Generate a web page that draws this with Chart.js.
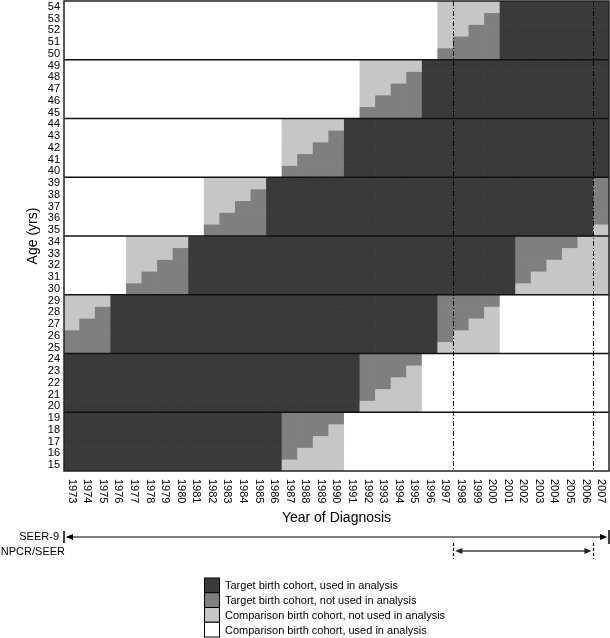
<!DOCTYPE html>
<html>
<head>
<meta charset="utf-8">
<script src="https://cdn.jsdelivr.net/npm/chart.js@4.4.1/dist/chart.umd.min.js"></script>
<style>
  html, body { margin: 0; padding: 0; background: #fff; }
  #wrap { width: 610px; height: 638px; }
</style>
</head>
<body>
<div id="wrap"><canvas id="cohortChart" width="610" height="638"></canvas></div>
<script>
// Years of diagnosis (columns) and ages (rows, top to bottom)
const years = ['1973', '1974', '1975', '1976', '1977', '1978', '1979', '1980', '1981', '1982',
    '1983', '1984', '1985', '1986', '1987', '1988', '1989', '1990', '1991', '1992',
    '1993', '1994', '1995', '1996', '1997', '1998', '1999', '2000', '2001', '2002',
    '2003', '2004', '2005', '2006', '2007'];
const ages = [54, 53, 52, 51, 50, 49, 48, 47, 46, 45, 44, 43, 42, 41, 40, 39, 38, 37, 36, 35,
    34, 33, 32, 31, 30, 29, 28, 27, 26, 25, 24, 23, 22, 21, 20, 19, 18, 17, 16, 15];

// One string per age row, one character per year (grouped by 5 years)
// 1 = target used, 2 = target not used, 3 = comparison not used, 0 = comparison used
const cellRows = [
    '00000 00000 00000 00000 00003 33311 11111', // 54
    '00000 00000 00000 00000 00003 33211 11111',
    '00000 00000 00000 00000 00003 32211 11111',
    '00000 00000 00000 00000 00003 22211 11111',
    '00000 00000 00000 00000 00002 22211 11111', // 50
    '00000 00000 00000 00003 33311 11111 11111', // 49
    '00000 00000 00000 00003 33211 11111 11111',
    '00000 00000 00000 00003 32211 11111 11111',
    '00000 00000 00000 00003 22211 11111 11111',
    '00000 00000 00000 00002 22211 11111 11111', // 45
    '00000 00000 00003 33311 11111 11111 11111', // 44
    '00000 00000 00003 33211 11111 11111 11111',
    '00000 00000 00003 32211 11111 11111 11111',
    '00000 00000 00003 22211 11111 11111 11111',
    '00000 00000 00002 22211 11111 11111 11111', // 40
    '00000 00003 33311 11111 11111 11111 11112', // 39
    '00000 00003 33211 11111 11111 11111 11112',
    '00000 00003 32211 11111 11111 11111 11112',
    '00000 00003 22211 11111 11111 11111 11112',
    '00000 00002 22211 11111 11111 11111 11113', // 35
    '00003 33311 11111 11111 11111 11112 22233', // 34
    '00003 33211 11111 11111 11111 11112 22333',
    '00003 32211 11111 11111 11111 11112 23333',
    '00003 22211 11111 11111 11111 11112 33333',
    '00002 22211 11111 11111 11111 11113 33333', // 30
    '33311 11111 11111 11111 11112 22200 00000', // 29
    '33211 11111 11111 11111 11112 22300 00000',
    '32211 11111 11111 11111 11112 23300 00000',
    '22211 11111 11111 11111 11112 33300 00000',
    '22211 11111 11111 11111 11113 33300 00000', // 25
    '11111 11111 11111 11112 22200 00000 00000', // 24
    '11111 11111 11111 11112 22300 00000 00000',
    '11111 11111 11111 11112 23300 00000 00000',
    '11111 11111 11111 11112 33300 00000 00000',
    '11111 11111 11111 11113 33300 00000 00000', // 20
    '11111 11111 11112 22200 00000 00000 00000', // 19
    '11111 11111 11112 22300 00000 00000 00000',
    '11111 11111 11112 23300 00000 00000 00000',
    '11111 11111 11112 33300 00000 00000 00000',
    '11111 11111 11113 33300 00000 00000 00000'  // 15
];

// Legend categories, in legend order
const categoryNames = ['Target birth cohort, used in analysis', 'Target birth cohort, not used in analysis',
    'Comparison birth cohort, not used in analysis', 'Comparison birth cohort, used in analysis'];
const categoryCodes = ['1', '2', '3', '0'];
const categoryColors = ['#3a3a3a', '#7f7f7f', '#c6c6c6', '#ffffff'];

// 5-year age band boundaries
const bandEdges = [19.5, 24.5, 29.5, 34.5, 39.5, 44.5, 49.5];

// Registry coverage
const rangeLabels = ['SEER-9', 'NPCR/SEER'];
const rangeStart = ['1973', '1998'];
const rangeEnd = ['2007', '2006'];

const FONT = '"Liberation Sans", Arial, Helvetica, sans-serif';

const datasets = ages.map((age, r) => {
    const codes = cellRows[r].replace(/ /g, '').split('');
    return {
        label: String(age),
        data: years.map(() => [age - 0.5, age + 0.5]),
        backgroundColor: codes.map(c => categoryColors[categoryCodes.indexOf(c)]),
        borderWidth: 0,
        grouped: false,
        barPercentage: 1,
        categoryPercentage: 1
    };
});

function line(ctx, x1, y1, x2, y2) {
    ctx.beginPath();
    ctx.moveTo(x1, y1);
    ctx.lineTo(x2, y2);
    ctx.stroke();
}

function arrowHead(ctx, tipX, y, dir) {
    ctx.beginPath();
    ctx.moveTo(tipX, y);
    ctx.lineTo(tipX + dir * 7, y - 3);
    ctx.lineTo(tipX + dir * 7, y + 3);
    ctx.closePath();
    ctx.fill();
}

const overlay = {
    id: 'overlay',
    afterDatasetsDraw(chart) {
        const { ctx, chartArea: a, scales: { x, y } } = chart;
        const step = x.getPixelForValue(1) - x.getPixelForValue(0);
        const edgeBefore = yr => x.getPixelForValue(years.indexOf(yr)) - step / 2;
        const edgeAfter = yr => x.getPixelForValue(years.indexOf(yr)) + step / 2;
        const nStart = edgeBefore(rangeStart[1]);
        const nEnd = edgeAfter(rangeEnd[1]);

        ctx.save();

        // band separators
        ctx.strokeStyle = '#111';
        ctx.lineWidth = 1.5;
        bandEdges.forEach(v => {
            const py = y.getPixelForValue(v);
            line(ctx, a.left, py, a.right, py);
        });

        // NPCR/SEER period markers
        ctx.lineWidth = 1;
        ctx.strokeStyle = '#000';
        ctx.setLineDash([5, 2, 1, 2]);
        line(ctx, Math.round(nStart) + 0.5, a.top, Math.round(nStart) + 0.5, a.bottom);
        line(ctx, Math.round(nEnd) + 0.5, a.top, Math.round(nEnd) + 0.5, a.bottom);
        ctx.setLineDash([]);

        // frame
        ctx.strokeStyle = '#222';
        ctx.lineWidth = 1.5;
        ctx.strokeRect(a.left, a.top, a.right - a.left, a.bottom - a.top);

        // x tick labels, reading downwards
        ctx.fillStyle = '#000';
        ctx.font = '11px ' + FONT;
        ctx.textAlign = 'left';
        ctx.textBaseline = 'middle';
        years.forEach((yr, i) => {
            ctx.save();
            ctx.translate(x.getPixelForValue(i), a.bottom + 8);
            ctx.rotate(Math.PI / 2);
            ctx.fillText(yr, 0, 0);
            ctx.restore();
        });

        // axis titles
        ctx.font = '14px ' + FONT;
        ctx.textAlign = 'center';
        ctx.fillText('Year of Diagnosis', (a.left + a.right) / 2, 518);
        ctx.save();
        ctx.translate(33, (a.top + a.bottom) / 2);
        ctx.rotate(-Math.PI / 2);
        ctx.fillText('Age (yrs)', 0, 0);
        ctx.restore();

        // SEER-9 range
        const sStart = edgeBefore(rangeStart[0]);
        const sEnd = edgeAfter(rangeEnd[0]);
        const sy = 537;
        ctx.strokeStyle = '#000';
        ctx.fillStyle = '#000';
        ctx.lineWidth = 1.5;
        line(ctx, sStart, sy - 6, sStart, sy + 6);
        line(ctx, sEnd, sy - 7, sEnd, sy + 7);
        ctx.lineWidth = 1.2;
        line(ctx, sStart + 3, sy, sEnd - 3, sy);
        arrowHead(ctx, sStart + 2, sy, 1);
        arrowHead(ctx, sEnd - 2, sy, -1);

        // NPCR/SEER range
        const ny = 551;
        ctx.setLineDash([3, 2]);
        ctx.lineWidth = 1.2;
        line(ctx, Math.round(nStart) + 0.5, ny - 8, Math.round(nStart) + 0.5, ny + 8);
        line(ctx, Math.round(nEnd) + 0.5, ny - 8, Math.round(nEnd) + 0.5, ny + 8);
        ctx.setLineDash([]);
        ctx.strokeStyle = '#444';
        ctx.fillStyle = '#222';
        ctx.lineWidth = 1.5;
        line(ctx, nStart + 4, ny, nEnd - 4, ny);
        arrowHead(ctx, nStart + 2, ny, 1);
        arrowHead(ctx, nEnd - 2, ny, -1);

        // range labels
        ctx.fillStyle = '#000';
        ctx.font = '11px ' + FONT;
        ctx.textAlign = 'right';
        ctx.fillText(rangeLabels[0], 59, sy);
        ctx.fillText(rangeLabels[1], 65, ny + 1);

        // legend
        const lx = 204, ly = 578, bw = 16, bh = 14.75;
        ctx.textAlign = 'left';
        ctx.lineWidth = 1;
        ctx.strokeStyle = '#000';
        categoryNames.forEach((name, i) => {
            const top = ly + i * bh;
            ctx.fillStyle = categoryColors[i];
            ctx.fillRect(lx, top, bw, bh);
            ctx.strokeRect(lx + 0.5, top, bw - 1, bh);
            ctx.fillStyle = '#000';
            ctx.fillText(name, lx + 21, top + bh / 2 + 1);
        });

        ctx.restore();
    }
};

new Chart(document.getElementById('cohortChart').getContext('2d'), {
    type: 'bar',
    data: { labels: years, datasets: datasets },
    options: {
        responsive: false,
        animation: false,
        events: [],
        layout: { padding: { top: 1, right: 1, left: 0, bottom: 0 } },
        plugins: {
            legend: { display: false },
            tooltip: { enabled: false }
        },
        scales: {
            x: {
                type: 'category',
                offset: true,
                grid: { display: false },
                border: { display: false },
                ticks: { display: false },
                afterFit: (scale) => {
                    scale.height = 167;
                    scale.paddingLeft = 0;
                    scale.paddingRight = 0;
                }
            },
            y: {
                type: 'linear',
                min: 14.5,
                max: 54.5,
                grid: { display: false, drawTicks: false },
                border: { display: false },
                ticks: {
                    autoSkip: false,
                    padding: 4,
                    color: '#000',
                    font: { family: FONT, size: 11 }
                },
                afterBuildTicks: (scale) => { scale.ticks = ages.map(v => ({ value: v })); },
                afterFit: (scale) => {
                    scale.width = 64;
                    scale.paddingTop = 0;
                    scale.paddingBottom = 0;
                }
            }
        }
    },
    plugins: [overlay]
});
</script>
</body>
</html>
